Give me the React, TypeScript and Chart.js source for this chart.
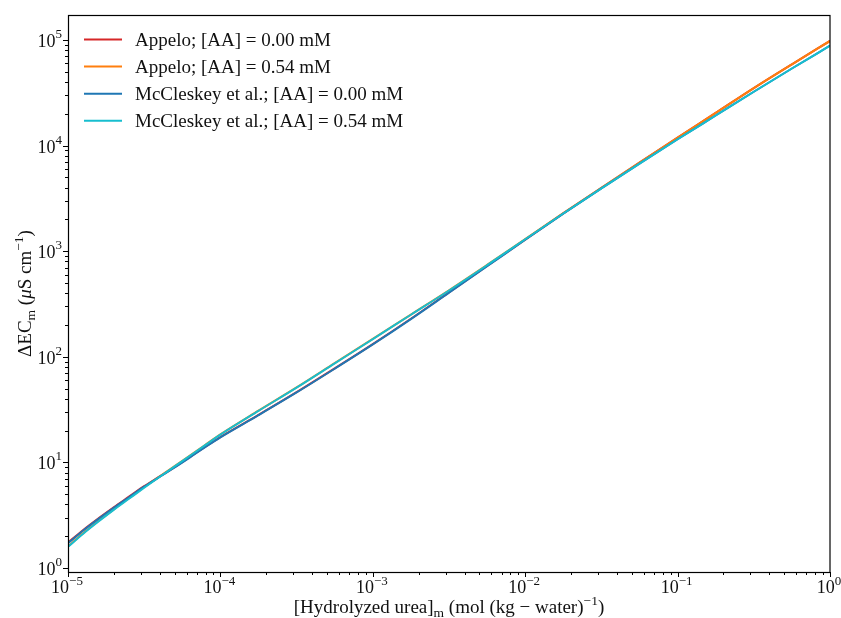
import React, { useEffect, useRef } from "react";
import { Chart, registerables } from "chart.js";

Chart.register(...registerables);

// ---------- data ----------
const hydrolyzedUrea = [
  1e-5, 1.259e-5, 1.585e-5, 1.995e-5, 2.512e-5, 3.162e-5, 3.981e-5, 5.012e-5, 6.31e-5, 7.943e-5,
  1e-4, 1.778e-4, 3.162e-4, 5.623e-4, 1e-3, 1.778e-3, 3.162e-3, 5.623e-3, 1e-2, 1.778e-2,
  3.162e-2, 5.623e-2, 0.1, 0.1778, 0.3162, 0.5623, 1,
];

const appelo000 = [
  1.738, 2.291, 2.951, 3.758, 4.732, 5.957, 7.328, 9.016, 11.22, 14.03,
  17.38, 28.18, 46.24, 77.62, 131.8, 229.1, 407.4, 724.4, 1288, 2280,
  3981, 6918, 11885, 20417, 35075, 58884, 97949,
];

const appelo054 = [
  1.603, 2.138, 2.786, 3.589, 4.571, 5.821, 7.328, 9.226, 11.61, 14.62,
  18.41, 30.9, 51.29, 87.1, 147.9, 251.2, 426.6, 741.3, 1303, 2291,
  3981, 6918, 11885, 20417, 35075, 58884, 97949,
];

const mccleskey000 = [
  1.718, 2.265, 2.917, 3.715, 4.677, 5.888, 7.278, 8.954, 11.14, 13.93,
  17.26, 27.99, 45.92, 77.09, 130.9, 227.5, 404.6, 719.4, 1282, 2265,
  3936, 6761, 11482, 19275, 32359, 53703, 88308,
];

const mccleskey054 = [
  1.585, 2.113, 2.754, 3.548, 4.519, 5.754, 7.278, 9.162, 11.56, 14.55,
  18.32, 30.76, 51.05, 86.7, 147.2, 250.0, 424.6, 737.9, 1297, 2275,
  3936, 6761, 11482, 19275, 32359, 53703, 88308,
];

const seriesLabels = [
  "Appelo; [AA] = 0.00 mM",
  "Appelo; [AA] = 0.54 mM",
  "McCleskey et al.; [AA] = 0.00 mM",
  "McCleskey et al.; [AA] = 0.54 mM",
];
const seriesColors = ["#d62728", "#ff7f0e", "#1f77b4", "#17becf"];

const xMajorTicks = [1e-5, 1e-4, 1e-3, 1e-2, 1e-1, 1];
const xTickExponents = ["\u22125", "\u22124", "\u22123", "\u22122", "\u22121", "0"];
const yMajorTicks = [1, 10, 100, 1000, 10000, 100000];
const yTickExponents = ["0", "1", "2", "3", "4", "5"];

const X_MIN = 1e-5;
const X_MAX = 1;
const Y_MIN = 0.916;
const Y_MAX = 172500;

// ---------- text helpers ----------
const FONT = '"Liberation Serif", "Times New Roman", serif';
type Seg = { t: string; size: number; dy?: number; italic?: boolean };

function setFont(ctx: CanvasRenderingContext2D, s: Seg) {
  ctx.font = `${s.italic ? "italic " : ""}${s.size}px ${FONT}`;
}
function richWidth(ctx: CanvasRenderingContext2D, segs: Seg[]) {
  let w = 0;
  for (const s of segs) {
    setFont(ctx, s);
    w += ctx.measureText(s.t).width;
  }
  return w;
}
function drawRich(
  ctx: CanvasRenderingContext2D,
  segs: Seg[],
  x: number,
  y: number,
  align: "left" | "center" | "right"
) {
  const w = richWidth(ctx, segs);
  let cx = align === "left" ? x : align === "center" ? x - w / 2 : x - w;
  ctx.textAlign = "left";
  ctx.textBaseline = "alphabetic";
  for (const s of segs) {
    setFont(ctx, s);
    ctx.fillText(s.t, cx, y + (s.dy || 0));
    cx += ctx.measureText(s.t).width;
  }
}

function minorTicks(min: number, max: number) {
  const out: number[] = [];
  for (let e = Math.floor(Math.log10(min)); e <= Math.ceil(Math.log10(max)); e++) {
    for (let m = 2; m <= 9; m++) {
      const v = m * Math.pow(10, e);
      if (v >= min && v <= max) out.push(v);
    }
  }
  return out;
}

const decorPlugin = {
  id: "mplDecor",
  afterDraw(chart: any) {
    const ctx: CanvasRenderingContext2D = chart.ctx;
    const { left, right, top, bottom } = chart.chartArea;
    const xs = chart.scales.x;
    const ys = chart.scales.y;
    ctx.save();
    ctx.strokeStyle = "#000";
    ctx.fillStyle = "#000";

    // ticks
    ctx.lineWidth = 1;
    const tick = (x1: number, y1: number, x2: number, y2: number) => {
      ctx.beginPath();
      ctx.moveTo(x1, y1);
      ctx.lineTo(x2, y2);
      ctx.stroke();
    };
    for (const v of xMajorTicks) {
      const px = Math.round(xs.getPixelForValue(v)) + 0.5;
      tick(px, bottom, px, bottom + 5);
    }
    for (const v of minorTicks(X_MIN, X_MAX)) {
      const px = Math.round(xs.getPixelForValue(v)) + 0.5;
      tick(px, bottom, px, bottom + 3);
    }
    for (const v of yMajorTicks) {
      const py = Math.round(ys.getPixelForValue(v)) + 0.5;
      tick(left, py, left - 5, py);
    }
    for (const v of minorTicks(Y_MIN, Y_MAX)) {
      const py = Math.round(ys.getPixelForValue(v)) + 0.5;
      tick(left, py, left - 3, py);
    }

    // frame
    ctx.lineWidth = 1.2;
    ctx.strokeRect(left + 0.5, top + 0.5, right - left - 0.5, bottom - top);

    // tick labels
    ctx.fillStyle = "#111";
    xMajorTicks.forEach((v, i) => {
      const px = xs.getPixelForValue(v);
      drawRich(
        ctx,
        [
          { t: "10", size: 18 },
          { t: xTickExponents[i], size: 13, dy: -8 },
        ],
        px - 1,
        bottom + 21,
        "center"
      );
    });
    yMajorTicks.forEach((v, i) => {
      const py = ys.getPixelForValue(v);
      drawRich(
        ctx,
        [
          { t: "10", size: 18 },
          { t: yTickExponents[i], size: 13, dy: -9 },
        ],
        left - 6,
        py + 7,
        "right"
      );
    });

    // x axis label
    drawRich(
      ctx,
      [
        { t: "[Hydrolyzed urea]", size: 19 },
        { t: "m", size: 13.5, dy: 4 },
        { t: " (mol (kg \u2212 water)", size: 19 },
        { t: "\u22121", size: 13.5, dy: -8 },
        { t: ")", size: 19 },
      ],
      (left + right) / 2,
      613,
      "center"
    );

    // y axis label
    ctx.save();
    ctx.translate(31, (top + bottom) / 2);
    ctx.rotate(-Math.PI / 2);
    drawRich(
      ctx,
      [
        { t: "\u0394EC", size: 19 },
        { t: "m", size: 13.5, dy: 4 },
        { t: " (", size: 19 },
        { t: "\u03bc", size: 19, italic: true },
        { t: "S cm", size: 19 },
        { t: "\u22121", size: 13.5, dy: -8 },
        { t: ")", size: 19 },
      ],
      0,
      0,
      "center"
    );
    ctx.restore();

    // legend
    chart.data.datasets.forEach((ds: any, i: number) => {
      const ly = 39.5 + i * 27.1;
      ctx.strokeStyle = ds.borderColor;
      ctx.lineWidth = 2;
      ctx.beginPath();
      ctx.moveTo(84, ly);
      ctx.lineTo(122, ly);
      ctx.stroke();
      ctx.fillStyle = "#111";
      drawRich(ctx, [{ t: ds.label, size: 19 }], 135, ly + 6, "left");
    });

    ctx.restore();
  },
};

export default function App() {
  const ref = useRef<HTMLCanvasElement | null>(null);

  useEffect(() => {
    if (!ref.current) return;
    const seriesValues = [appelo000, appelo054, mccleskey000, mccleskey054];
    const chart = new Chart(ref.current, {
      type: "line",
      data: {
        datasets: seriesValues.map((vals, i) => ({
          label: seriesLabels[i],
          data: hydrolyzedUrea.map((x, j) => ({ x, y: vals[j] })),
          borderColor: seriesColors[i],
          backgroundColor: seriesColors[i],
          borderWidth: 2,
          pointRadius: 0,
          fill: false,
          cubicInterpolationMode: "monotone" as const,
          order: 4 - i,
        })),
      },
      options: {
        animation: false,
        responsive: false,
        maintainAspectRatio: false,
        layout: { padding: { top: 15, right: 11, left: 0, bottom: 0 } },
        plugins: { legend: { display: false }, tooltip: { enabled: false } },
        scales: {
          x: {
            type: "logarithmic",
            min: X_MIN,
            max: X_MAX,
            grid: { display: false },
            border: { display: false },
            ticks: { display: false },
            afterFit: (s: any) => {
              s.height = 46;
            },
          },
          y: {
            type: "logarithmic",
            min: Y_MIN,
            max: Y_MAX,
            grid: { display: false },
            border: { display: false },
            ticks: { display: false },
            afterFit: (s: any) => {
              s.width = 68;
            },
          },
        },
      },
      plugins: [decorPlugin],
    });
    return () => chart.destroy();
  }, []);

  return (
    <div style={{ position: "fixed", left: 0, top: 0, width: 841, height: 618, background: "#fff" }}>
      <canvas ref={ref} width={841} height={618} style={{ display: "block", width: 841, height: 618 }} />
    </div>
  );
}
